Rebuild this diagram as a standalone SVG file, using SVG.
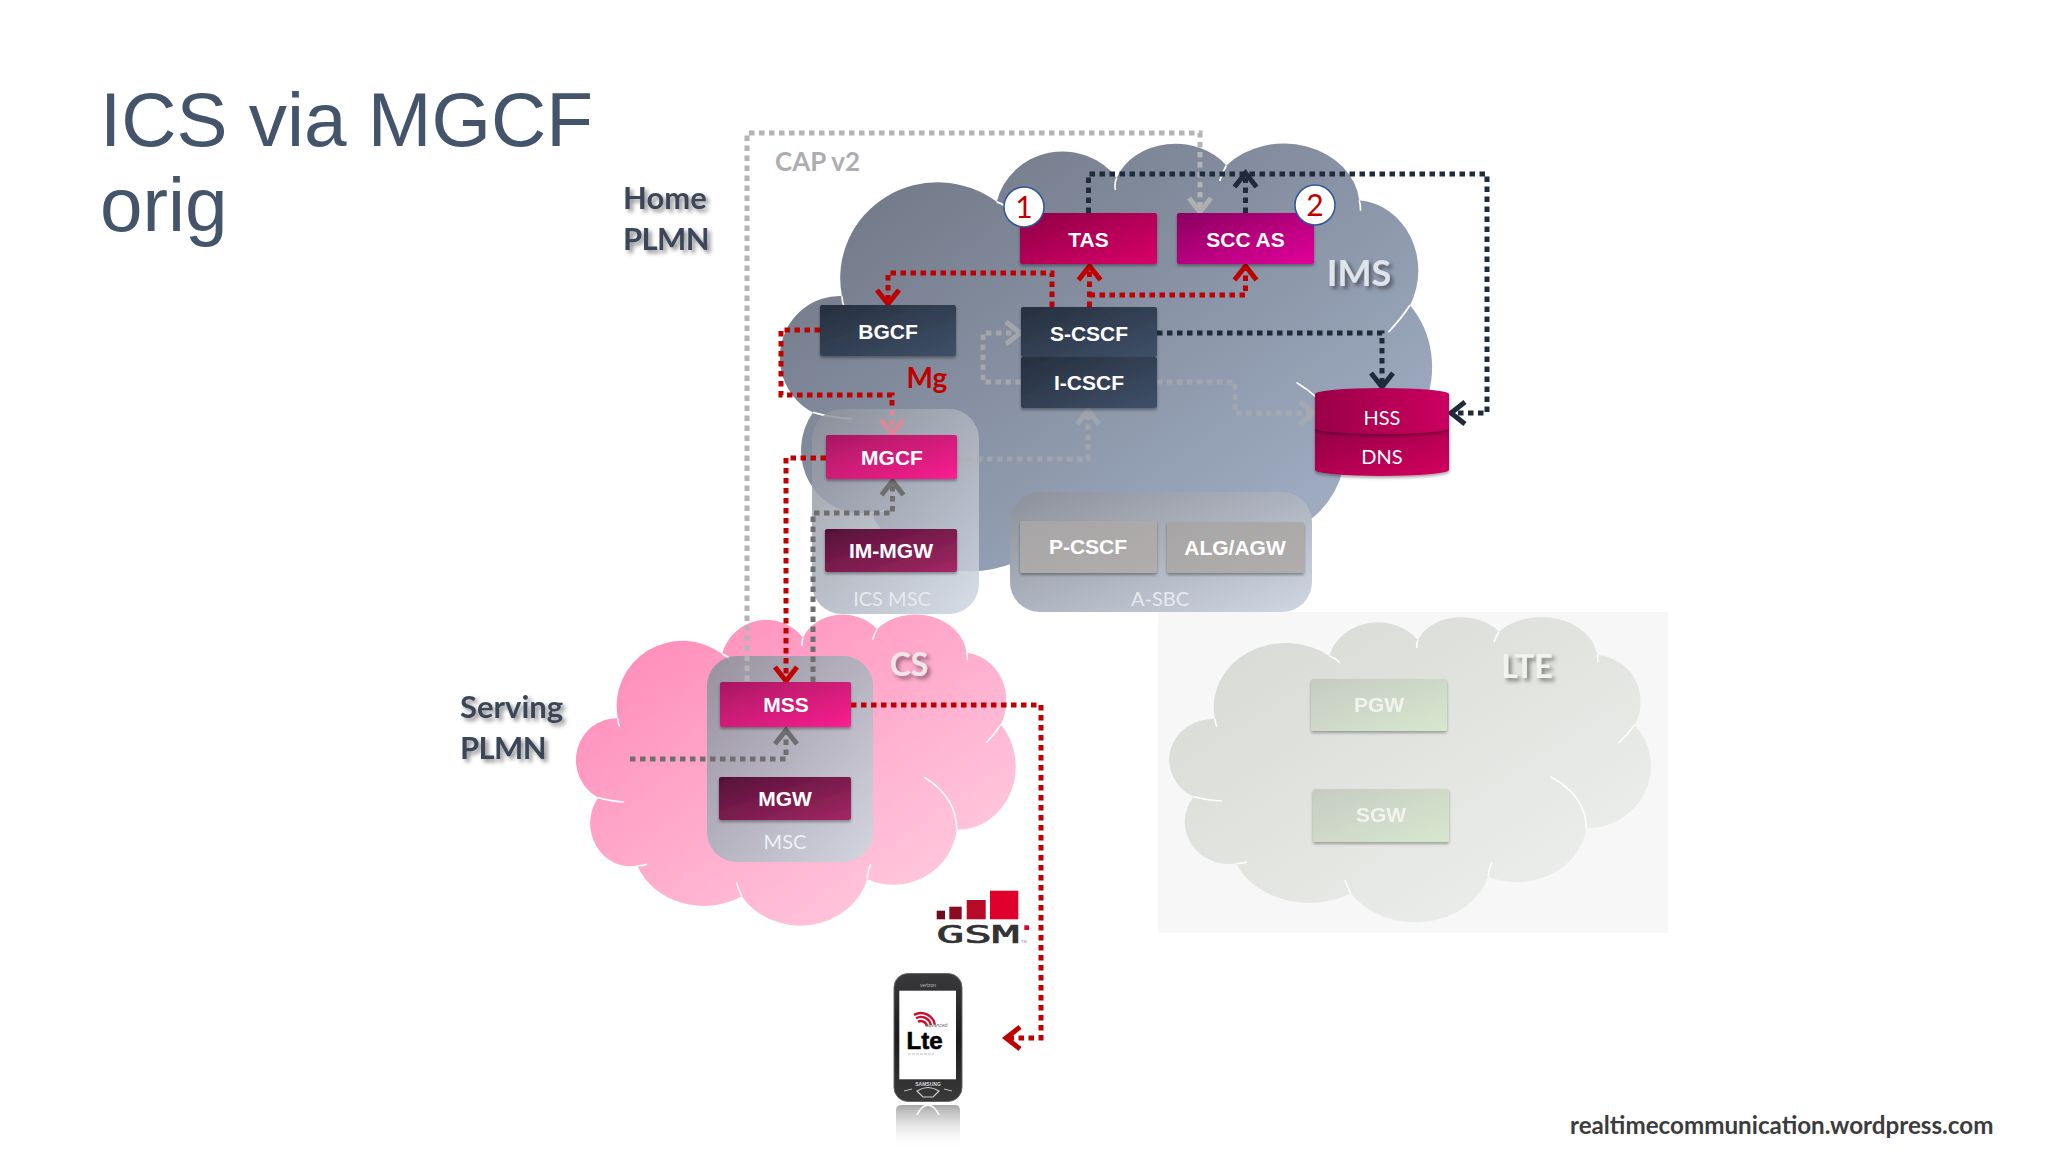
<svg xmlns="http://www.w3.org/2000/svg" width="2048" height="1152" viewBox="0 0 2048 1152">
<defs>
<path id="cloud" d="M75 119A72 64 0 0 1 189.3 56A50 44 0 0 1 277.9 40A46 34 0 0 1 358.9 31.7A56 42 0 0 1 457.1 55A47 47 0 0 1 494.6 125A64 62 0 0 1 446.4 228.3A70 62 0 0 1 348.2 276.7A76 62 0 0 1 210.7 293.3A78 62 0 0 1 96.4 263.3A44 42 0 0 1 53.6 196.7A44 41 0 0 1 75 119Z"/>
<path id="cloudhi" d="M189.3 56Q196 58 200 63M277.9 40Q276 44 277 48M358.9 31.7Q356 36 354 42M457.1 55Q458 58 458 62M494.6 125Q488 134 478.6 143M410.7 176.7Q446 196 446.4 228.3M348.2 276.7Q349 268 352 262M210.7 293.3Q207 286 205 280M96.4 263.3Q100 264 107 262M53.6 196.7Q66 200 82 201M75 119Q75 123 77 127"/>
<linearGradient id="gIms" x1="0" y1="0" x2="1" y2="1"><stop offset="0" stop-color="#6c7280"/><stop offset="1" stop-color="#a9b8cf"/></linearGradient>
<linearGradient id="gCs" x1="0" y1="0" x2="1" y2="1"><stop offset="0" stop-color="#ff86b6"/><stop offset="1" stop-color="#ffd3e3"/></linearGradient>
<linearGradient id="gLte" x1="0" y1="0" x2="1" y2="1"><stop offset="0" stop-color="#d5d8d3"/><stop offset="1" stop-color="#eff1ee"/></linearGradient>
<linearGradient id="gCont" x1="0" y1="0" x2="1" y2="1"><stop offset="0" stop-color="#8c909a"/><stop offset="1" stop-color="#cfd7e3"/></linearGradient>
<linearGradient id="gNavy" x1="0" y1="0" x2="1" y2="1"><stop offset="0" stop-color="#262f3e"/><stop offset="1" stop-color="#3f5069"/></linearGradient>
<linearGradient id="gTas" x1="0" y1="0" x2="1" y2="1"><stop offset="0" stop-color="#8f0045"/><stop offset="1" stop-color="#d80068"/></linearGradient>
<linearGradient id="gScc" x1="0" y1="0" x2="1" y2="1"><stop offset="0" stop-color="#8a0060"/><stop offset="1" stop-color="#e2009a"/></linearGradient>
<linearGradient id="gMg" x1="0" y1="0" x2="1" y2="1"><stop offset="0" stop-color="#a81862"/><stop offset="1" stop-color="#fa2090"/></linearGradient>
<linearGradient id="gDeep" x1="0" y1="0" x2="1" y2="1"><stop offset="0" stop-color="#541038"/><stop offset="1" stop-color="#a32864"/></linearGradient>
<linearGradient id="gGrey" x1="0" y1="0" x2="1" y2="1"><stop offset="0" stop-color="#a6a5a5"/><stop offset="1" stop-color="#b2adad"/></linearGradient>
<linearGradient id="gGw" x1="0" y1="0" x2="1" y2="1"><stop offset="0" stop-color="#c4c9c0"/><stop offset="1" stop-color="#d6e8cc"/></linearGradient>
<linearGradient id="gHss" x1="0" y1="0" x2="1" y2="0"><stop offset="0" stop-color="#9a0048"/><stop offset="1" stop-color="#cc0060"/></linearGradient>
<linearGradient id="gDns" x1="0" y1="0" x2="1" y2="1"><stop offset="0" stop-color="#920044"/><stop offset="1" stop-color="#d4005f"/></linearGradient>
<linearGradient id="gPhone" x1="0" y1="0" x2="0" y2="1"><stop offset="0" stop-color="#3a3a3c"/><stop offset=".5" stop-color="#1c1c1e"/><stop offset="1" stop-color="#3a3a3a"/></linearGradient>
<linearGradient id="gRefl" x1="0" y1="0" x2="0" y2="1"><stop offset="0" stop-color="#8c8c8c" stop-opacity=".75"/><stop offset="1" stop-color="#fff" stop-opacity="0"/></linearGradient>
<filter id="sh" x="-10%" y="-10%" width="120%" height="130%"><feDropShadow dx="0" dy="2" stdDeviation="1.5" flood-color="#000" flood-opacity=".35"/></filter>
<filter id="tsh" x="-10%" y="-20%" width="130%" height="160%"><feDropShadow dx="3" dy="3" stdDeviation="2" flood-color="#000" flood-opacity=".45"/></filter>
<marker id="aNavy" markerUnits="userSpaceOnUse" markerWidth="30" markerHeight="30" refX="19" refY="15" orient="auto"><path d="M4 4L18 15L4 26" fill="none" stroke="#1f2a3a" stroke-width="5"/></marker>
<marker id="aRed" markerUnits="userSpaceOnUse" markerWidth="30" markerHeight="30" refX="19" refY="15" orient="auto"><path d="M4 4L18 15L4 26" fill="none" stroke="#c00000" stroke-width="5"/></marker>
<marker id="aPale" markerUnits="userSpaceOnUse" markerWidth="30" markerHeight="30" refX="19" refY="15" orient="auto"><path d="M4 4L18 15L4 26" fill="none" stroke="#d98a98" stroke-width="5"/></marker>
<marker id="aGrey" markerUnits="userSpaceOnUse" markerWidth="30" markerHeight="30" refX="19" refY="15" orient="auto"><path d="M4 4L18 15L4 26" fill="none" stroke="#6e6e6e" stroke-width="5"/></marker>
<marker id="aLight" markerUnits="userSpaceOnUse" markerWidth="30" markerHeight="30" refX="19" refY="15" orient="auto"><path d="M4 4L18 15L4 26" fill="none" stroke="#b0aeae" stroke-width="5"/></marker>
</defs>
<style>
.box{stroke:none;filter:url(#sh)}
.bt{font-family:"Liberation Sans",Arial,sans-serif;font-weight:700;font-size:21px;fill:#fff;text-anchor:middle}
.lt{font-family:Lato,"Open Sans",sans-serif;font-size:20px;text-anchor:middle}
.hd{font-family:Lato,"Open Sans",sans-serif;font-weight:700;font-size:31px;fill:#3a4658;filter:url(#tsh)}
.cl{font-family:Lato,"Open Sans",sans-serif;font-weight:700;font-size:36px;text-anchor:middle;filter:url(#tsh)}
.title{font-family:"Liberation Sans",Arial,sans-serif;font-size:76.5px;fill:#44546a}
.hi{fill:none;stroke:#fff;stroke-width:1.6}
.c{fill:none;stroke-width:5;stroke-dasharray:5.5 4.5}
.navy{stroke:#1f2a3a}.red{stroke:#c00000}.grey{stroke:#6e6e6e}.light{stroke:#b0aeae}.pale{stroke:#d98a98}
</style>
<rect width="2048" height="1152" fill="#fff"/>
<text class="title" x="100" y="146">ICS via MGCF</text>
<text class="title" x="100" y="231">orig</text>
<text class="hd" x="623" y="209">Home</text>
<text class="hd" x="623" y="250" letter-spacing="-.6">PLMN</text>
<text class="hd" x="460" y="718">Serving</text>
<text class="hd" x="460" y="759" letter-spacing="-.6">PLMN</text>

<g id="ims-cloud">
<use href="#cloud" transform="translate(740.4 118) scale(1.354 1.497)" fill="url(#gIms)"/>
<use href="#cloudhi" transform="translate(740.4 118) scale(1.354 1.497)" class="hi" style="stroke-width:1.2"/>
<text class="cl" x="1359" y="286" fill="#dfe3ea">IMS</text>
</g>
<g id="cs-cloud">
<use href="#cloud" transform="translate(549.3 597) scale(.913 1.02)" fill="url(#gCs)"/>
<use href="#cloudhi" transform="translate(549.3 597) scale(.913 1.02)" class="hi"/>
<text class="cl" x="909" y="676" style="font-size:32px" fill="#f0e6ea">CS</text>
</g>
<g id="lte-cloud">
<rect x="1158" y="612" width="510" height="321" fill="#f6f7f6"/>
<use href="#cloud" transform="translate(1140 600)" fill="url(#gLte)"/>
<use href="#cloudhi" transform="translate(1140 600)" class="hi"/>
<text class="cl" x="1527" y="678" style="font-size:32px" fill="#f1f3ef">LTE</text>
</g>
<g id="ics-msc"><rect x="812" y="409" width="167" height="205" rx="30" fill="url(#gCont)" opacity=".85"/><text class="lt" x="892" y="606" fill="#e6eaf0">ICS MSC</text></g>
<g id="a-sbc"><rect x="1010" y="492" width="302" height="120" rx="30" fill="url(#gCont)"/><text class="lt" x="1160" y="606" fill="#e6eaf0">A-SBC</text></g>
<g id="msc"><rect x="707" y="656" width="166" height="206" rx="30" fill="url(#gCont)" opacity=".9"/><text class="lt" x="785" y="849" fill="#eef1f5">MSC</text></g>

<g id="connectors">
<path class="c light" d="M747 681V133H1200V213" style="stroke:#b4b4b4" marker-end="url(#aLight)"/>
<path class="c navy" d="M1088.5 213V174H1487V413H1450" marker-end="url(#aNavy)"/>
<path class="c navy" d="M1245.5 213V172" marker-end="url(#aNavy)"/>
<path class="c navy" d="M1157 333H1382V388" marker-end="url(#aNavy)"/>
<path class="c red" d="M1052 307V273H888V305" marker-end="url(#aRed)"/>
<path class="c red" d="M1089.5 307V265" marker-end="url(#aRed)"/>
<path class="c red" d="M1089.5 295H1245.5V265" marker-end="url(#aRed)"/>
<path class="c red" d="M820 330H781V395H892V410"/>
<path class="c pale" d="M892 410V435" marker-end="url(#aPale)"/>
<path class="c red" d="M826 458H786V682" marker-end="url(#aRed)"/>
<path class="c grey" d="M813 682V513H892.5V480" marker-end="url(#aGrey)"/>
<path class="c grey" d="M630 759H786V729" marker-end="url(#aGrey)"/>
<path class="c red" d="M851 705H1041V1038H1005" marker-end="url(#aRed)"/>
<path class="c light" d="M1021 382H983V333H1021" opacity=".75" marker-end="url(#aLight)"/>
<path class="c light" d="M1157 382H1235V413H1315" opacity=".55" marker-end="url(#aLight)"/>
<path class="c light" d="M957 459H1088V409" opacity=".55" marker-end="url(#aLight)"/>
</g>

<g id="tas"><rect class="box" x="1020" y="213" width="137" height="51" rx="2" fill="url(#gTas)"/><text class="bt" x="1088.5" y="247">TAS</text></g>
<g id="scc-as"><rect class="box" x="1177" y="213" width="137" height="51" rx="2" fill="url(#gScc)"/><text class="bt" x="1245.5" y="247">SCC AS</text></g>
<g id="badge-1"><circle cx="1024" cy="207" r="20" fill="#fff" stroke="#2f5597" stroke-width="1.5"/><text class="lt" x="1024" y="218" style="font-size:30px" fill="#c00000">1</text></g>
<g id="badge-2"><circle cx="1315" cy="205" r="20" fill="#fff" stroke="#2f5597" stroke-width="1.5"/><text class="lt" x="1315" y="216" style="font-size:30px" fill="#c00000">2</text></g>
<g id="bgcf"><rect class="box" x="820" y="305" width="136" height="51" rx="2" fill="url(#gNavy)"/><text class="bt" x="888" y="339">BGCF</text></g>
<g id="s-cscf"><rect class="box" x="1021" y="307" width="136" height="50" rx="2" fill="url(#gNavy)"/><text class="bt" x="1089" y="341">S-CSCF</text></g>
<g id="i-cscf"><rect class="box" x="1021" y="357" width="136" height="51" rx="2" fill="url(#gNavy)"/><text class="bt" x="1089" y="390">I-CSCF</text></g>
<text id="mg" x="927" y="388" font-family="Lato,sans-serif" font-weight="700" font-size="28" fill="#c00000" text-anchor="middle">Mg</text>
<g id="mgcf"><rect class="box" x="826" y="435" width="131" height="44" rx="2" fill="url(#gMg)"/><text class="bt" x="892" y="465">MGCF</text></g>
<g id="im-mgw"><rect class="box" x="825" y="529" width="132" height="43" rx="2" fill="url(#gDeep)"/><text class="bt" x="891" y="558">IM-MGW</text></g>
<g id="p-cscf"><rect class="box" x="1020" y="521" width="137" height="52" rx="2" fill="url(#gGrey)"/><text class="bt" x="1088" y="554">P-CSCF</text></g>
<g id="alg-agw"><rect class="box" x="1167" y="522" width="137" height="51" rx="2" fill="url(#gGrey)"/><text class="bt" x="1235" y="555">ALG/AGW</text></g>
<g id="hss-dns">
<path d="M1315 428V470A67 6 0 0 0 1449 470V428Z" fill="url(#gDns)" filter="url(#sh)"/>
<path d="M1315 394V428A67 6 0 0 0 1449 428V394A67 6 0 0 0 1315 394Z" fill="url(#gHss)" filter="url(#sh)"/>
<text class="lt" x="1382" y="425" fill="#fff">HSS</text><text class="lt" x="1382" y="464" fill="#fff">DNS</text>
</g>
<g id="mss"><rect class="box" x="720" y="682" width="131" height="45" rx="2" fill="url(#gMg)"/><text class="bt" x="786" y="712">MSS</text></g>
<g id="mgw"><rect class="box" x="719" y="777" width="132" height="43" rx="2" fill="url(#gDeep)"/><text class="bt" x="785" y="806">MGW</text></g>
<g id="pgw" opacity=".9"><rect class="box" x="1311" y="679" width="136" height="52" rx="2" fill="url(#gGw)"/><text class="bt" x="1379" y="712" style="fill:#f3f6ef">PGW</text></g>
<g id="sgw" opacity=".9"><rect class="box" x="1313" y="789" width="136" height="53" rx="2" fill="url(#gGw)"/><text class="bt" x="1381" y="822" style="fill:#f3f6ef">SGW</text></g>

<g id="gsma-logo">
<rect x="936.7" y="910.7" width="8.3" height="8.6" fill="#6e0d1a"/>
<rect x="949.3" y="906.7" width="12.4" height="12.6" fill="#8e0a20"/>
<rect x="966.7" y="900" width="19" height="19.3" fill="#b80b27"/>
<rect x="990" y="890.7" width="28.3" height="28.6" fill="#e0002d"/>
<rect x="1024.3" y="925.3" width="4.7" height="4.7" fill="#e0002d"/>
<text x="936.5" y="943" font-family="'DejaVu Sans Mono',monospace" font-size="24" textLength="83" lengthAdjust="spacingAndGlyphs" fill="#333" stroke="#333" stroke-width=".7">GSM</text>
<text x="1021" y="943" font-family="'Liberation Sans',sans-serif" font-size="4" fill="#888">TM</text>
</g>
<g id="phone">
<rect x="894" y="973.5" width="68" height="128" rx="14" fill="url(#gPhone)" stroke="#6a6a6a" stroke-width="1"/>
<rect x="899.3" y="990.7" width="56.7" height="88.6" fill="#fff"/>
<text x="928" y="987" font-family="'Liberation Sans',sans-serif" font-size="5" fill="#bbb" text-anchor="middle">verizon</text>
<path d="M918 1021.8A6 6 0 0 1 926.9 1026M916 1018.3A10 10 0 0 1 930.9 1025.3M914 1014.9A14 14 0 0 1 934.8 1024.6" fill="none" stroke="#c8102e" stroke-width="2.4"/>
<text x="936.5" y="1027" font-family="'Liberation Sans',sans-serif" font-style="italic" font-size="5" fill="#666" text-anchor="middle">advanced</text>
<text x="906.5" y="1049" font-family="'Liberation Sans',sans-serif" font-weight="700" font-size="24" textLength="36" lengthAdjust="spacingAndGlyphs" fill="#000" stroke="#000" stroke-width=".6">Lte</text>
<path d="M908 1054H934" stroke="#bbb" stroke-width="1.2" stroke-dasharray="3 1"/>
<text x="928" y="1085.5" font-family="'Liberation Sans',sans-serif" font-weight="700" font-size="5" fill="#d8d8d8" text-anchor="middle">SAMSUNG</text>
<path d="M917 1091Q928 1084 939 1091L933 1097H923Z" fill="none" stroke="#cfcfcf" stroke-width="1.2"/>
<path d="M904 1091L912 1089M944 1089L952 1091" stroke="#bbb" stroke-width="1"/>
<path d="M896 1110Q896 1105 902 1105H955Q960 1105 960 1110V1150H896Z" fill="url(#gRefl)"/>
<path d="M917 1115Q921 1106 928 1105Q935 1106 939 1115" fill="none" stroke="#fff" stroke-width="1.4"/>
</g>

<text id="cap" x="775" y="171" font-family="Lato,sans-serif" font-weight="700" font-size="26" fill="#adadb1">CAP v2</text>
<text id="footer" x="1570" y="1134" font-family="Lato,sans-serif" font-weight="700" font-size="24.2" fill="#3c3c3c">realtimecommunication.wordpress.com</text>
</svg>
